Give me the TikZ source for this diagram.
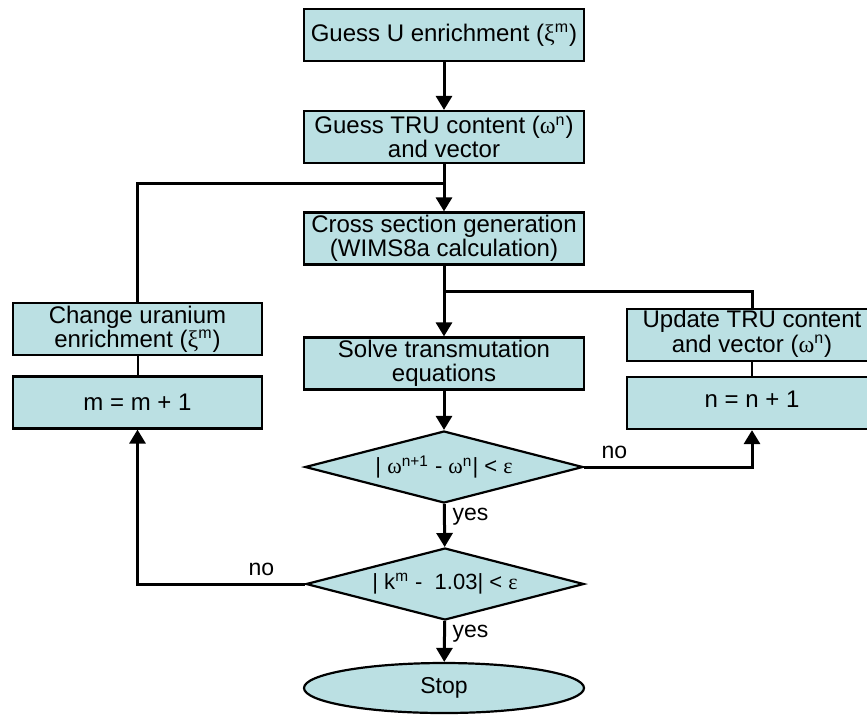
\documentclass[tikz,border=0pt]{standalone}
\usepackage{fontspec}
\setmainfont{Liberation Sans}
\newfontfamily\grkfont{Liberation Serif}
\usepackage{tikz}
\usetikzlibrary{arrows.meta,shapes.geometric}
\definecolor{boxfill}{RGB}{187,224,227}
\newcommand{\gxi}{{\grkfont ξ}}
\newcommand{\gom}{{\grkfont ω}}
\newcommand{\geps}{{\grkfont ε}}
% right column boxes run off the page: keep their text left of centre
\newcommand{\offtext}[1]{\begin{tabular}{@{}c@{}}#1\end{tabular}\hspace*{15pt}}

\begin{document}
\begin{tikzpicture}[x=0.5pt,y=-0.5pt,font=\fontsize{11.5}{12}\selectfont,
  proc/.style={draw,line width=1.1pt,fill=boxfill,align=center,inner sep=0pt,minimum height=26pt,
    font=\fontsize{12}{11.8}\selectfont},
  mainbox/.style={proc,minimum width=140pt},
  sidebox/.style={proc,minimum width=124.5pt},
  test/.style={diamond,draw,line width=1.1pt,fill=boxfill,aspect=3.8,inner sep=0pt,minimum width=139pt,minimum height=36pt,
    font=\fontsize{11}{12}\selectfont},
  flow/.style={line width=1.5pt,-{Triangle[length=7pt,width=8pt]}},
  link/.style={line width=1.5pt},
  joint/.style={line width=1pt}]
\useasboundingbox (0,0) rectangle (867,720);
% main column
\node[mainbox] (guessU) at (444,35) {Guess U enrichment (\gxi\textsuperscript{m})};
\node[mainbox] (guessTRU) at (444,137) {Guess TRU content (\gom\textsuperscript{n})\\and vector};
\node[mainbox] (xsec) at (444,238.5) {Cross section generation\\(WIMS8a calculation)};
\node[mainbox] (solve) at (444,363.5) {Solve transmutation\\equations};
\node[test] (conv) at (444,467) {| \gom\textsuperscript{n+1} - \gom\textsuperscript{n}| < \geps};
\node[test] (crit) at (445,584) {| k\textsuperscript{m} -~ 1.03| < \geps};
\node[ellipse,draw,line width=1.1pt,fill=boxfill,minimum width=140pt,minimum height=25pt,inner sep=0pt] (stop) at (444,688) {Stop};
% side loops
\node[sidebox] (change) at (137.5,329) {Change uranium\\enrichment (\gxi\textsuperscript{m})};
\node[sidebox] (mnext) at (137.5,402.5) {m = m + 1};
\node[sidebox,minimum width=140pt] (update) at (767,335) {\offtext{Update TRU content\\and vector (\gom\textsuperscript{n})}};
\node[sidebox,minimum width=140pt] (nnext) at (767,403) {\offtext{n = n + 1}};
\coordinate (topjoin) at (444,183);
\coordinate (midjoin) at (444,291);
% connectors
\draw[flow] (guessU) -- (guessTRU);
\draw[flow] (guessTRU) -- (xsec);
\draw[flow] (xsec) -- (solve);
\draw[flow] (solve) -- (conv);
\draw[flow] (conv) -- node[right,pos=0.3] {yes} (crit);
\draw[flow] (crit) -- node[right,pos=0.3] {yes} (stop);
\draw[flow] (conv.east) -| node[above,pos=0.09] {no} ([xshift=-7.5pt]nnext.south);
\draw[flow] (crit.west) -| node[above,pos=0.13] {no} (mnext.south);
\draw[link] (change.north) |- (topjoin);
\draw[link] ([xshift=-7.5pt]update.north) |- (midjoin);
\draw[joint] (change) -- (mnext);
\draw[joint] ([xshift=-7.5pt]update.south) -- ([xshift=-7.5pt]nnext.north);
\end{tikzpicture}
\end{document}
